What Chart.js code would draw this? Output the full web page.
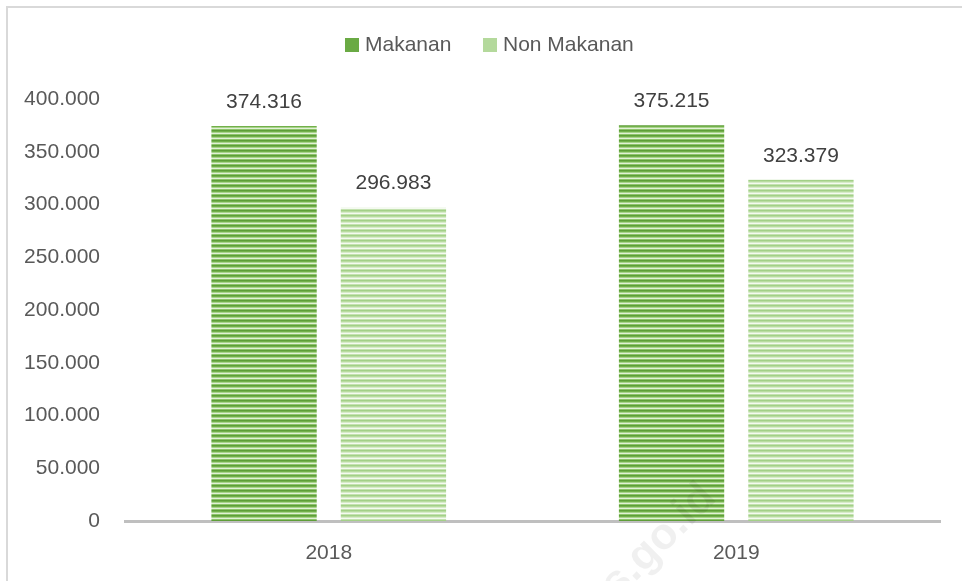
<!DOCTYPE html>
<html>
<head>
<meta charset="utf-8">
<script src="https://cdn.jsdelivr.net/npm/chart.js@4"></script>
<style>
  html, body { margin: 0; padding: 0; background: #fff; overflow: hidden; }
  #wrap { position: relative; width: 962px; height: 581px; overflow: hidden; }
  #frame { position: absolute; left: 6px; top: 6px; width: 990px; height: 600px;
           border-left: 2px solid #d9d9d9; border-top: 2px solid #d9d9d9; }
  canvas { position: absolute; left: 0; top: 0; }
</style>
</head>
<body>
<div id="wrap">
  <div id="frame"></div>
  <canvas id="chart" width="962" height="581"></canvas>
</div>
<script>
// data
const years = ["2018", "2019"];
const makanan = [374316, 375215];
const nonMakanan = [296983, 323379];
const yTicks = [0, 50000, 100000, 150000, 200000, 250000, 300000, 350000, 400000];

const FONT = "'Liberation Sans', Arial, sans-serif";

function fmt(v) {
  return String(v).replace(/\B(?=(\d{3})+(?!\d))/g, ".");
}

// horizontal stripe pattern like the Excel fill
function stripes(rows) {
  const c = document.createElement("canvas");
  c.width = 4; c.height = rows.length;
  const g = c.getContext("2d");
  rows.forEach((col, i) => { g.fillStyle = col; g.fillRect(0, i, 4, 1); });
  return g.createPattern(c, "repeat");
}

const ctx = document.getElementById("chart").getContext("2d");
const fillMakanan = stripes(["#5e9e38", "#72b04a", "#a8d38a", "#e2f1d6", "#8ec46b"]);
const fillNon = stripes(["#a3d088", "#b8dca0", "#d6ebc8", "#f4faf0", "#c4e2b0"]);

// value labels above bars
const valueLabels = {
  id: "valueLabels",
  afterDatasetsDraw(chart) {
    const c = chart.ctx;
    c.save();
    c.font = "21px " + FONT;
    c.fillStyle = "#404040";
    c.textAlign = "center";
    c.textBaseline = "middle";
    chart.data.datasets.forEach((ds, i) => {
      chart.getDatasetMeta(i).data.forEach((bar, j) => {
        c.fillText(fmt(ds.data[j]), bar.x, bar.y - 24);
      });
    });
    c.restore();
  }
};

// simple legend at top centre
const topLegend = {
  id: "topLegend",
  afterDraw(chart) {
    const c = chart.ctx;
    c.save();
    c.font = "21px " + FONT;
    c.textBaseline = "middle";
    const items = [
      { x: 345, color: "#6aaa44", text: chart.data.datasets[0].label },
      { x: 483, color: "#b4d99c", text: chart.data.datasets[1].label }
    ];
    items.forEach(it => {
      c.fillStyle = it.color;
      c.fillRect(it.x, 38, 14, 14);
      c.fillStyle = "#595959";
      c.fillText(it.text, it.x + 20, 45);
    });
    c.restore();
  }
};

// faint watermark
const watermark = {
  id: "watermark",
  afterDraw(chart) {
    const c = chart.ctx;
    c.save();
    c.translate(640, 560);
    c.rotate(-Math.PI / 4);
    c.font = "bold 44px " + FONT;
    c.fillStyle = "rgba(0,0,0,0.06)";
    c.textAlign = "center";
    c.textBaseline = "middle";
    c.fillText("bps.go.id", 0, 0);
    c.restore();
  }
};

new Chart(ctx, {
  type: "bar",
  data: {
    labels: years,
    datasets: [
      { label: "Makanan", data: makanan, backgroundColor: fillMakanan },
      { label: "Non Makanan", data: nonMakanan, backgroundColor: fillNon }
    ]
  },
  options: {
    responsive: false,
    animation: false,
    devicePixelRatio: 1,
    categoryPercentage: 0.635,
    barPercentage: 0.814,
    layout: { padding: { top: 99, right: 22, left: 0, bottom: 0 } },
    plugins: {
      legend: { display: false },
      tooltip: { enabled: false }
    },
    scales: {
      x: {
        grid: { display: false, drawTicks: false },
        border: { display: true, color: "#bfbfbf", width: 3 },
        ticks: { color: "#595959", font: { family: FONT, size: 21 }, padding: 20 },
        afterFit(s) { s.height = 60; }
      },
      y: {
        min: 0,
        max: 400000,
        grid: { display: false, drawTicks: false },
        border: { display: false },
        afterBuildTicks(s) { s.ticks = yTicks.map(v => ({ value: v })); },
        ticks: {
          color: "#595959",
          font: { family: FONT, size: 21 },
          padding: 25,
          callback: v => fmt(v)
        },
        afterFit(s) { s.width = 125; }
      }
    }
  },
  plugins: [valueLabels, topLegend, watermark]
});
</script>
</body>
</html>
